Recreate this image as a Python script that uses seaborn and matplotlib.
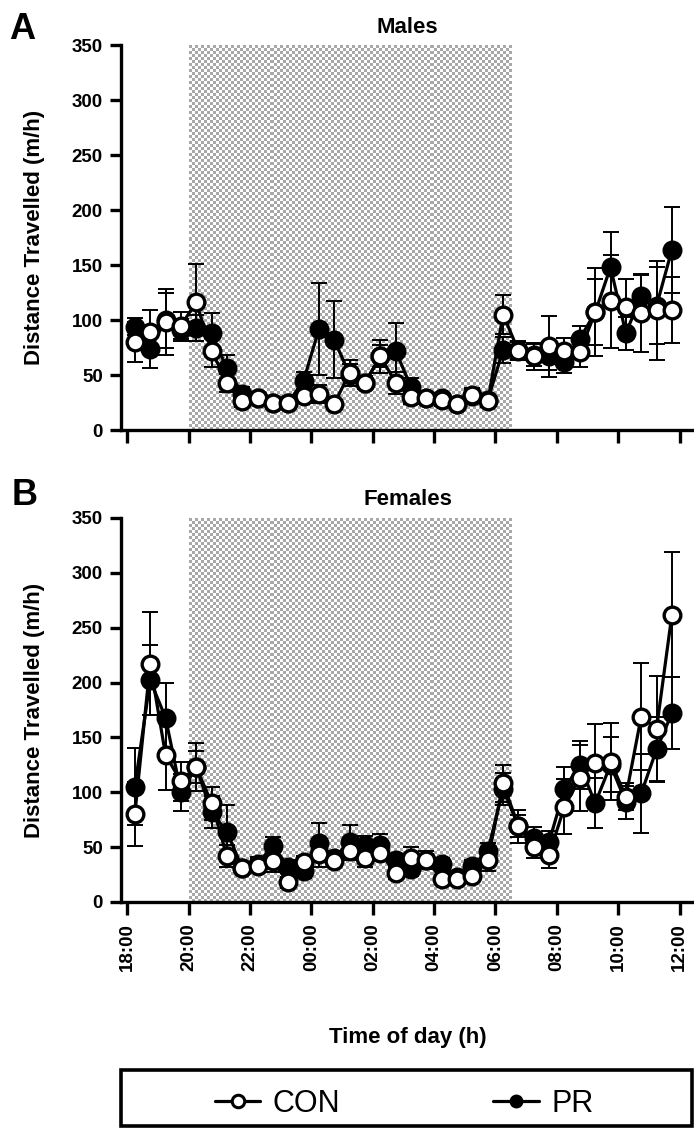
import numpy as np
import pandas as pd
import matplotlib
matplotlib.use('Agg')
import matplotlib.pyplot as plt
from matplotlib.lines import Line2D
from matplotlib.patches import Rectangle
import seaborn as sns

# hours after 18:00 (half-hour bins)
hours = [0.25, 0.75, 1.25, 1.75, 2.25, 2.75, 3.25, 3.75, 4.25, 4.75, 5.25, 5.75,
         6.25, 6.75, 7.25, 7.75, 8.25, 8.75, 9.25, 9.75, 10.25, 10.75, 11.25, 11.75,
         12.25, 12.75, 13.25, 13.75, 14.25, 14.75, 15.25, 15.75, 16.25, 16.75, 17.25, 17.75]
tick_pos = [0, 2, 4, 6, 8, 10, 12, 14, 16, 18]
tick_labels = ['18:00', '20:00', '22:00', '00:00', '02:00', '04:00', '06:00', '08:00', '10:00', '12:00']
dark_start, dark_end = 2.0, 12.5

# Males
male_con = [80, 89, 98, 95, 116, 72, 43, 26, 29, 25, 25, 31, 33, 24, 52, 43, 67, 43,
            30, 29, 27, 24, 32, 26, 105, 72, 67, 76, 72, 71, 107, 117, 112, 106, 109, 109]
male_con_sem = [18, 20, 30, 12, 35, 15, 8, 5, 4, 3, 4, 6, 8, 4, 12, 6, 10, 10,
                6, 4, 5, 3, 6, 5, 18, 8, 12, 28, 12, 14, 30, 42, 25, 35, 45, 30]
male_pr = [94, 74, 100, 91, 93, 88, 56, 33, 29, 25, 25, 45, 92, 82, 50, 43, 67, 72,
           39, 29, 29, 24, 31, 27, 73, 73, 68, 67, 62, 83, 107, 148, 88, 122, 113, 164]
male_pr_sem = [8, 18, 25, 10, 12, 18, 12, 6, 4, 3, 4, 8, 42, 35, 10, 6, 15, 25,
               8, 4, 5, 3, 6, 5, 12, 8, 10, 12, 10, 12, 40, 32, 15, 20, 35, 39]

# Females
female_con = [80, 217, 134, 110, 123, 90, 42, 31, 33, 37, 18, 36, 44, 37, 46, 40, 45, 26,
              40, 38, 21, 21, 24, 38, 108, 69, 50, 43, 87, 113, 127, 128, 96, 169, 158, 262]
female_con_sem = [29, 47, 32, 18, 22, 15, 10, 5, 6, 10, 5, 6, 12, 5, 8, 8, 8, 5,
                  10, 8, 4, 5, 5, 10, 17, 15, 10, 12, 25, 30, 35, 35, 12, 49, 48, 57]
female_pr = [105, 202, 168, 100, 123, 82, 64, 31, 35, 51, 32, 28, 54, 40, 55, 52, 52, 38,
             30, 38, 35, 23, 33, 46, 103, 69, 58, 55, 103, 125, 90, 125, 91, 99, 139, 172]
female_pr_sem = [35, 32, 32, 17, 15, 15, 24, 5, 6, 8, 6, 6, 18, 6, 15, 8, 10, 6,
                 6, 6, 5, 4, 5, 8, 15, 10, 10, 10, 20, 22, 23, 25, 15, 36, 30, 33]

sns.set_theme(style='ticks')
plt.rcParams['font.family'] = ['Liberation Sans', 'DejaVu Sans']
plt.rcParams['font.weight'] = 'bold'
plt.rcParams['axes.labelweight'] = 'bold'
for key in ['text.color', 'axes.labelcolor', 'xtick.color', 'ytick.color', 'axes.edgecolor']:
    plt.rcParams[key] = 'black'

fig = plt.figure(figsize=(6.94, 11.29), dpi=100)
ax_a = fig.add_axes([0.1744, 0.6191, 0.8256, 0.341])
ax_b = fig.add_axes([0.1744, 0.2011, 0.8256, 0.3401])


def draw_panel(ax, con, con_sem, pr, pr_sem, title, show_xlabels):
    df = pd.DataFrame({'hour': hours * 2,
                       'dist': con + pr,
                       'sem': con_sem + pr_sem,
                       'group': ['CON'] * len(hours) + ['PR'] * len(hours)})

    # dark phase, checkered grey
    yy, xx = np.indices((128, 107))
    checker = (yy + xx) % 2
    ax.imshow(checker, cmap=matplotlib.colors.ListedColormap(['#a8a8a8', '#ffffff']),
              extent=(dark_start, dark_end, 0, 350), aspect='auto',
              interpolation='nearest', zorder=0)

    for grp, face in [('PR', 'black'), ('CON', 'white')]:
        sub = df[df['group'] == grp]
        ax.errorbar(sub['hour'], sub['dist'], yerr=sub['sem'], fmt='none',
                    ecolor='black', elinewidth=1.4, capsize=5.5, capthick=1.4, zorder=3)
        sns.lineplot(data=sub, x='hour', y='dist', ax=ax, color='black', lw=2.3,
                     marker='o', markersize=12, markerfacecolor=face,
                     markeredgecolor='black', markeredgewidth=2.4, zorder=4)

    ax.set_xlim(-0.2, 18.47)
    ax.set_ylim(0, 350)
    ax.set_yticks(range(0, 351, 50))
    ax.set_xticks(tick_pos)
    if show_xlabels:
        ax.set_xticklabels(tick_labels, rotation=90, fontsize=13.5, fontweight='bold')
    else:
        ax.set_xticklabels([])
    ax.tick_params(axis='y', labelsize=13.5, width=2.4, length=8, pad=5)
    ax.tick_params(axis='x', width=2.4, length=9, pad=6)
    for lab in ax.get_yticklabels():
        lab.set_fontweight('bold')
    sns.despine(ax=ax)
    ax.spines['left'].set_linewidth(2.4)
    ax.spines['bottom'].set_linewidth(2.4)
    ax.set_xlabel('')
    ax.set_ylabel('Distance Travelled (m/h)', fontsize=16, fontweight='bold')
    ax.yaxis.set_label_coords(-0.133, 0.5)
    ax.set_title(title, fontsize=16, fontweight='bold', pad=9)


draw_panel(ax_a, male_con, male_con_sem, male_pr, male_pr_sem, 'Males', False)
draw_panel(ax_b, female_con, female_con_sem, female_pr, female_pr_sem, 'Females', True)
ax_b.set_xlabel('Time of day (h)', fontsize=16, fontweight='bold')
ax_b.xaxis.set_label_coords(0.5, -0.325)

fig.text(0.013, 0.989, 'A', fontsize=26, fontweight='bold', va='top', ha='left')
fig.text(0.017, 0.577, 'B', fontsize=26, fontweight='bold', va='top', ha='left')

# legend box along the bottom
fig.patches.append(Rectangle((0.1744, 0.0025), 0.823, 0.0495, transform=fig.transFigure,
                             fill=False, edgecolor='black', linewidth=2.6))
handles = [Line2D([0], [0], color='black', lw=2.3, marker='o', markersize=9,
                  markerfacecolor='white', markeredgecolor='black', markeredgewidth=2.2),
           Line2D([0], [0], color='black', lw=2.3, marker='o', markersize=9,
                  markerfacecolor='black', markeredgecolor='black')]
leg = fig.legend(handles, ['CON', 'PR'], loc='center', ncol=2,
                 bbox_to_anchor=(404 / 694, 1 - 1104 / 1129),
                 frameon=False, borderaxespad=0,
                 prop={'family': 'Liberation Sans', 'weight': 'normal', 'size': 22},
                 handlelength=1.5, handletextpad=0.4, columnspacing=5.0)

fig.savefig('out.png', dpi=100)
